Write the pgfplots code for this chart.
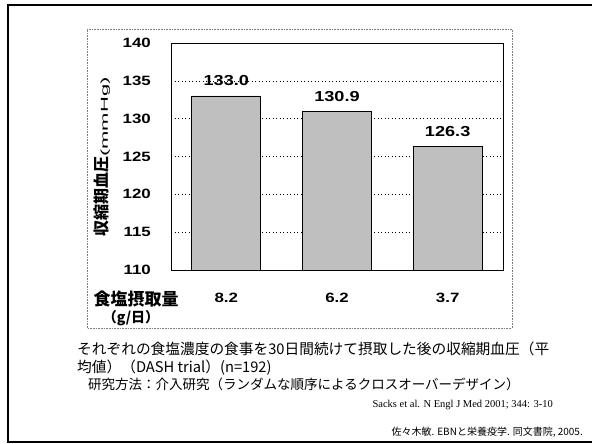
\documentclass[border=0pt]{standalone}
\usepackage{graphicx}
\usepackage{pgfplots}
\pgfplotsset{compat=1.18}
\usepackage{fontspec}
\setmainfont{Liberation Sans}
\newfontfamily\numfont{Liberation Sans Bold}[FakeStretch=1.25]
\newfontfamily\jpfont{Noto Sans CJK JP}
\newfontfamily\citefont{Liberation Serif}

\begin{document}
\begin{tikzpicture}[x=1pt,y=1pt]
\path[use as bounding box] (0,0) rectangle (592,444);
% slide frame (open on the right)
\draw[line width=1.8pt] (600,439) -- (8,439) -- (8,2) -- (600,2);
% dotted panel around the chart
\draw[gray, densely dotted, line width=0.6pt] (87,116) rectangle (512,415);

\begin{axis}[
  at={(171pt,174pt)}, anchor=south west,
  scale only axis, width=332pt, height=227pt,
  ybar,
  xmin=-0.5, xmax=2.5, ymin=110, ymax=140,
  ytick={110,115,...,140},
  xtick={0,1,2}, xticklabels={8.2,6.2,3.7},
  major tick length=0pt,
  ymajorgrids,
  grid style={black, dash pattern=on 1pt off 2.5pt, line width=0.5pt},
  axis line style={black, line width=0.8pt},
  /pgf/number format/assume math mode=true,
  ticklabel style={font=\numfont\fontsize{13.5}{15}\selectfont},
  yticklabel style={inner sep=0pt, xshift=-20pt},
  xticklabel style={inner sep=0pt, yshift=-23pt},
  nodes near coords={\pgfmathprintnumber[fixed,fixed zerofill,precision=1]{\pgfplotspointmeta}},
  nodes near coords style={font=\numfont\fontsize{14.5}{16}\selectfont, inner sep=0pt, anchor=south, yshift=9.5pt},
]
\addplot[ybar, bar width=69pt, fill=black!25, draw=black, line width=0.8pt]
  coordinates {(0,133.0) (1,130.9) (2,126.3)};
\end{axis}

% axis titles
\node[rotate=90, inner sep=0pt] at (102,287)
  {{\jpfont\bfseries\fontsize{16}{16}\selectfont 収縮期血圧}\scalebox{2.2}[1]{\fontsize{10}{10}\selectfont(mmHg)}};
\node[inner sep=0pt] at (136,145) {\jpfont\bfseries\fontsize{17}{17}\selectfont 食塩摂取量};
\node[inner sep=0pt] at (131,126) {\jpfont\bfseries\fontsize{14}{14}\selectfont （g/日）};

% caption
\node[anchor=west, inner sep=0pt] at (77,95)
  {\jpfont\fontsize{14.7}{15}\selectfont それぞれの食塩濃度の食事を30日間続けて摂取した後の収縮期血圧（平};
\node[anchor=west, inner sep=0pt] at (77,76)
  {\jpfont\fontsize{14.7}{15}\selectfont 均値）（DASH trial）(n=192)};
\node[anchor=west, inner sep=0pt] at (88,60)
  {\jpfont\fontsize{13.5}{14}\selectfont 研究方法：介入研究（ランダムな順序によるクロスオーバーデザイン）};
\node[anchor=east, inner sep=0pt] at (553,39)
  {\citefont\fontsize{10.5}{12}\selectfont Sacks et al. N Engl J Med 2001; 344: 3-10};
\node[anchor=east, inner sep=0pt] at (583,12)
  {\jpfont\fontsize{10}{12}\selectfont 佐々木敏. EBNと栄養疫学. 同文書院, 2005.};
\end{tikzpicture}
\end{document}
